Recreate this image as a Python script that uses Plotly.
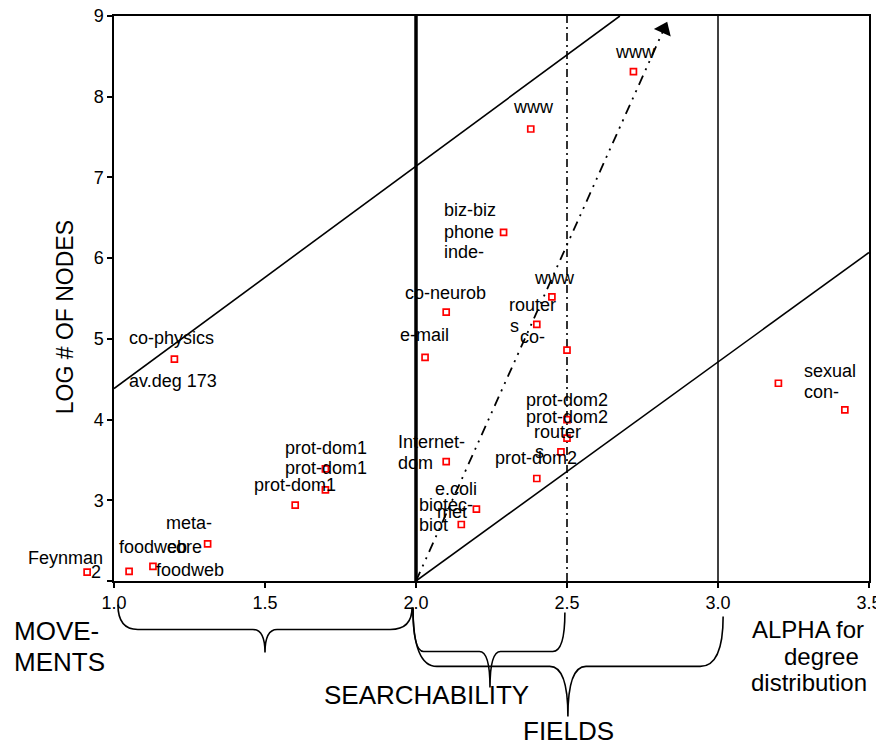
import plotly.graph_objects as go

# ---------------- data ----------------
alpha = [0.911, 1.05, 1.129, 1.31, 1.60, 1.70, 1.70, 1.20,
         2.10, 2.03, 2.45, 2.40, 2.50, 2.50, 2.50, 2.48, 2.40,
         2.10, 2.20, 2.15, 2.72, 2.38, 2.29, 3.20, 3.42]
log_nodes = [2.11, 2.12, 2.18, 2.46, 2.94, 3.13, 3.39, 4.75,
             5.33, 4.77, 5.52, 5.18, 4.86, 4.00, 3.77, 3.60, 3.27,
             3.48, 2.89, 2.70, 8.31, 7.60, 6.32, 4.45, 4.12]

# labels: text lines and anchor (alpha, log nodes) of the left edge of each line
label_text = ["Feynman", "foodweb", "meta-", "core", "foodweb", "co-physics", "av.deg 173",
              "prot-dom1", "prot-dom1", "prot-dom1", "biz-biz", "phone", "inde-",
              "www", "www", "co-neurob", "e-mail", "www", "router", "s", "co-",
              "prot-dom2", "prot-dom2", "router", "s", "prot-dom2", "Internet-", "dom",
              "e.coli", "met", "biotec-", "biot", "sexual", "con-"]
label_x = [0.709, 1.010, 1.166, 1.169, 1.132, 1.043, 1.043,
           1.560, 1.560, 1.457, 2.086, 2.086, 2.086,
           2.315, 2.652, 1.957, 1.940, 2.384, 2.301, 2.305, 2.338,
           2.358, 2.358, 2.384, 2.387, 2.255, 1.934, 1.934,
           2.056, 2.063, 2.003, 2.003, 3.278, 3.278]
label_y = [2.291, 2.427, 2.724, 2.427, 2.142, 5.014, 4.482,
           3.652, 3.405, 3.194, 6.598, 6.325, 6.077,
           7.873, 8.554, 5.571, 5.051, 5.756, 5.422, 5.162, 5.025,
           4.245, 4.035, 3.850, 3.603, 3.528, 3.726, 3.466,
           3.145, 2.860, 2.947, 2.699, 4.606, 4.346]

x_ticks = [1.0, 1.5, 2.0, 2.5, 3.0, 3.5]
x_tick_text = ["1.0", "1.5", "2.0", "2.5", "3.0", "3.5"]
y_ticks = [2, 3, 4, 5, 6, 7, 8, 9]

# reference lines (endpoints in data units)
upper_line_x = [1.0, 2.675]
upper_line_y = [4.385, 9.0]
lower_line_x = [2.0, 3.5]
lower_line_y = [2.0, 6.07]
arrow_x = [2.0, 2.821]
arrow_y = [2.0, 8.838]
v_thick_x = 2.0
v_dash_x = 2.5
v_thin_x = 3.0

FONT = "Liberation Sans, Arial, sans-serif"

# layout geometry (page shows the figure offset by the body margin)
OFF = 8
W, H = 884, 747
SCREEN_LEFT, SCREEN_AXIS_LEFT, SCREEN_RIGHT = 20, 114, 869
SCREEN_TOP, SCREEN_BOTTOM = 16, 581.5
ML = SCREEN_LEFT - OFF
MR = W - (SCREEN_RIGHT - OFF)
MT = SCREEN_TOP - OFF
MB = H - (SCREEN_BOTTOM - OFF)
PW = W - ML - MR
PH = SCREEN_BOTTOM - SCREEN_TOP
X_MIN, X_MAX = 1.0, 3.5
PX_PER_UNIT = (SCREEN_RIGHT - SCREEN_AXIS_LEFT) / (X_MAX - X_MIN)
dom0 = (SCREEN_AXIS_LEFT - SCREEN_LEFT) / PW
x2_min = X_MIN - (SCREEN_AXIS_LEFT - SCREEN_LEFT) / PX_PER_UNIT


def xp(px):
    return (px - SCREEN_LEFT) / PW


def yp(py):
    return (SCREEN_BOTTOM - py) / PH


fig = go.Figure()


def line(xs, ys, width, dash="solid"):
    fig.add_trace(go.Scatter(x=xs, y=ys, mode="lines",
                             line=dict(color="black", width=width, dash=dash),
                             hoverinfo="skip", showlegend=False))


line([v_thick_x, v_thick_x], [2, 9], 3.5)
line([v_thin_x, v_thin_x], [2, 9], 1.5)
line([v_dash_x, v_dash_x], [2, 9], 1.6, "8px,4px,2px,4px")
line(upper_line_x, upper_line_y, 1.6)
line(lower_line_x, lower_line_y, 1.6)
line(arrow_x, arrow_y, 1.8, "10px,6px,2px,6px,2px,6px")

fig.add_trace(go.Scatter(x=[arrow_x[-1]], y=[arrow_y[-1]], mode="markers",
                         marker=dict(symbol="triangle-up", size=16, angle=24,
                                     color="black"),
                         cliponaxis=False, hoverinfo="skip", showlegend=False))

# points on a hidden wider x-axis with identical scale (some lie left of 1.0)
fig.add_trace(go.Scatter(x=alpha, y=log_nodes, mode="markers", xaxis="x2", yaxis="y",
                         marker=dict(symbol="square", size=6, color="white",
                                     line=dict(color="#ff0000", width=1.7)),
                         cliponaxis=False, showlegend=False))

for t, lx, ly in zip(label_text, label_x, label_y):
    fig.add_annotation(x=lx, y=ly, xref="x2", yref="y", text=t, showarrow=False,
                       xanchor="left", yanchor="middle",
                       font=dict(family=FONT, size=18, color="black"))

# y tick "2" (drawn slightly above the axis as in the original)
fig.add_annotation(x=xp(103), y=yp(572), xref="paper", yref="paper", text="2",
                   showarrow=False, xanchor="right", yanchor="middle",
                   font=dict(family=FONT, size=18, color="black"))

# axis title
fig.add_annotation(x=xp(65), y=yp(317.5), xref="paper", yref="paper",
                   text="LOG # OF NODES", textangle=-90, showarrow=False,
                   xanchor="center", yanchor="middle",
                   font=dict(family=FONT, size=23, color="black"))


def ptext(t, px, py, xanchor="center", size=26):
    fig.add_annotation(x=xp(px), y=yp(py), xref="paper", yref="paper", text=t,
                       showarrow=False, xanchor=xanchor, yanchor="middle",
                       font=dict(family=FONT, size=size, color="black"))


ptext("MOVE-", 12, 632, xanchor="left")
ptext("MENTS", 12, 663, xanchor="left")
ptext("SEARCHABILITY", 426, 696)
ptext("FIELDS", 568, 732)
ptext("ALPHA for", 808, 630, size=24)
ptext("degree", 821, 657, size=24)
ptext("distribution", 809, 683, size=24)


def brace(x0, y0, x1, y1, xt, yt, ym, r0, r1, rt):
    ym_, y0_, y1_, yt_ = yp(ym), yp(y0), yp(y1), yp(yt)
    p = (f"M {x0},{y0_} Q {x0},{ym_} {x0 + r0},{ym_} "
         f"L {xt - rt},{ym_} Q {xt},{ym_} {xt},{yt_} "
         f"Q {xt},{ym_} {xt + rt},{ym_} "
         f"L {x1 - r1},{ym_} Q {x1},{ym_} {x1},{y1_}")
    fig.add_shape(type="path", path=p, xref="x", yref="paper",
                  line=dict(color="black", width=1.6))


brace(1.013, 605, 1.987, 608, 1.5, 653, 630, 0.066, 0.072, 0.04)
brace(1.99, 608, 2.493, 613, 2.245, 688, 652, 0.035, 0.04, 0.035)
brace(1.99, 608, 3.017, 617, 2.503, 717, 667, 0.079, 0.076, 0.06)

axis_common = dict(ticks="outside", ticklen=5, tickwidth=1.5, tickcolor="black",
                   showline=True, linewidth=1.5, linecolor="black", mirror=True,
                   showgrid=False, zeroline=False, automargin=False,
                   ticklabeloverflow="allow",
                   tickfont=dict(family=FONT, size=18, color="black"))

fig.update_layout(
    xaxis=dict(range=[X_MIN, X_MAX], domain=[dom0, 1], tickvals=x_ticks,
               ticktext=x_tick_text, anchor="y", **axis_common),
    xaxis2=dict(range=[x2_min, X_MAX], domain=[0, 1], anchor="y", visible=False,
                showgrid=False, zeroline=False),
    yaxis=dict(range=[2, 9], tickvals=y_ticks, anchor="x",
               ticktext=[""] + [str(v) for v in y_ticks[1:]], **axis_common),
    width=W, height=H,
    margin=dict(l=ML, r=MR, t=MT, b=MB, pad=0),
    plot_bgcolor="rgba(0,0,0,0)", paper_bgcolor="white",
    showlegend=False)

fig.write_html("out.html")
